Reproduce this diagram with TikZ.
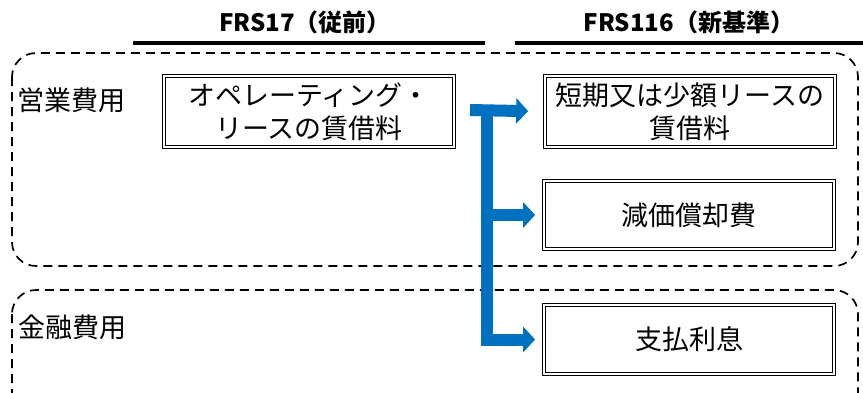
\documentclass[tikz,border=0pt]{standalone}
\usepackage{fontspec}
\newfontfamily\jp{Noto Sans CJK JP}
\usetikzlibrary{arrows.meta}
\definecolor{arrowblue}{RGB}{0,112,192}
\tikzset{
  txt/.style={font=\jp\fontsize{27}{33}\selectfont, inner sep=0pt, align=center},
  title/.style={font=\jp\bfseries\fontsize{24}{28}\selectfont, inner sep=0pt},
  itembox/.style={txt, draw=black, line width=1.7pt, double=white, double distance=1.1pt},
  group/.style={draw=black, line width=1.7pt, dash pattern=on 9pt off 6pt, rounded corners=24pt},
  rule/.style={draw=black, line width=3.2pt},
  bluearrow/.style={draw=arrowblue, line width=12pt, line join=miter, -{Triangle[width=25pt,length=12pt]}}
}
\begin{document}
\begin{tikzpicture}[x=1pt,y=-1pt]
\useasboundingbox (0,0) rectangle (863,392);
\clip (0,0) rectangle (863,392);
% titles
\node[title] (t17) at (305,22) {FRS17（従前）};
\node[title] (t116) at (689,22) {FRS116（新基準）};
\coordinate (u1a) at (133,43); \coordinate (u1b) at (485,43);
\coordinate (u2a) at (515,43); \coordinate (u2b) at (870,43);
\draw[rule] (u1a) -- (u1b);
\draw[rule] (u2a) -- (u2b);
% groups
\draw[group] (12,53) rectangle (858,266);
\draw[group] (12,290) rectangle (858,430);
\node[txt, anchor=west] (op) at (17,100) {営業費用};
\node[txt, anchor=west] (fin) at (18,327) {金融費用};
% boxes
\node[itembox, minimum width=290pt, minimum height=71pt] (old) at (309,111.5) {オペレーティング・\\リースの賃借料};
\node[itembox, minimum width=290pt, minimum height=71pt] (A) at (690,111.5) {短期又は少額リースの\\賃借料};
\node[itembox, minimum width=290pt, minimum height=68pt] (B) at (689,215) {減価償却費};
\node[itembox, minimum width=290pt, minimum height=69pt] (C) at (689,339.5) {支払利息};
% blue connectors
\coordinate (t0) at (470,110);
\coordinate (s) at (486.5,110);
\draw[bluearrow, shorten >=16pt] (t0) -- (A.west);
\draw[bluearrow, shorten >=8pt] (s) |- (B.west);
\draw[bluearrow, shorten >=8pt] (s) |- (C.west);
\end{tikzpicture}
\end{document}
